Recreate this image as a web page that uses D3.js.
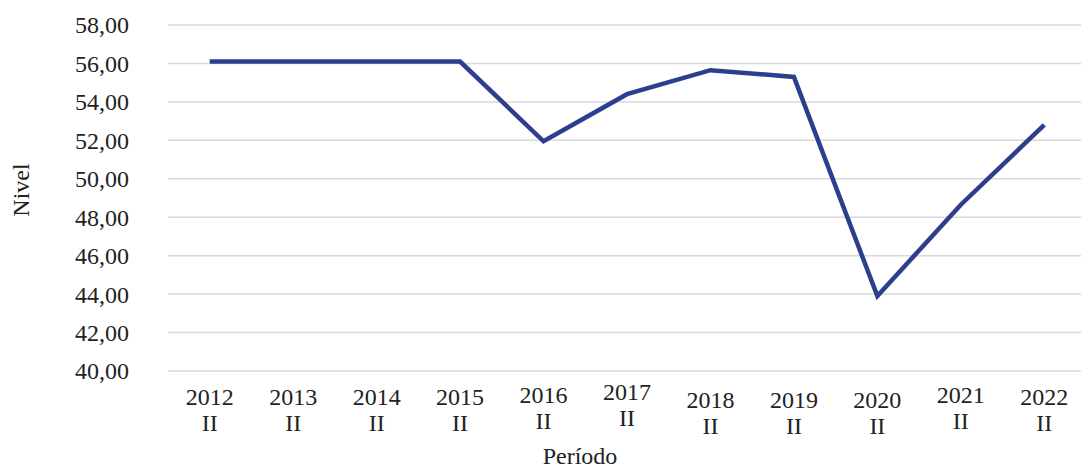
<!DOCTYPE html>
<html>
<head>
<meta charset="utf-8">
<script src="https://cdn.jsdelivr.net/npm/d3@7"></script>
<style>
  body { margin: 0; background: #fff; }
  text { font-family: "Liberation Serif", "DejaVu Serif", serif; fill: #222; }
</style>
</head>
<body>
<div id="chart"></div>
<script>
const years = ['2012', '2013', '2014', '2015', '2016', '2017', '2018', '2019', '2020', '2021', '2022'];
const semester = 'II';
const nivel = [56.1, 56.1, 56.1, 56.1, 51.95, 54.4, 55.65, 55.3, 43.9, 48.65, 52.8];
const yTicks = [40, 42, 44, 46, 48, 50, 52, 54, 56, 58];

// excel staggers the wrapped labels a bit
const tickNudge = [0, 0, 0, 0, -2, -5, 3, 3, 3, -2, 0];

const W = 1081, H = 470;
const margin = { top: 25, right: -5, bottom: 99, left: 168 };

const svg = d3.select('#chart').append('svg')
  .attr('width', W)
  .attr('height', H);

const x = d3.scaleBand()
  .domain(years)
  .range([margin.left, W - margin.right]);

const y = d3.scaleLinear()
  .domain([40, 58])
  .range([H - margin.bottom, margin.top]);

// gridlines
svg.append('g')
  .selectAll('line')
  .data(yTicks)
  .join('line')
  .attr('x1', margin.left)
  .attr('x2', W)
  .attr('y1', d => y(d))
  .attr('y2', d => y(d))
  .attr('stroke', '#d9d9d9')
  .attr('stroke-width', 1.5);

// y labels
const fmt = d => d3.format('.2f')(d).replace('.', ',');
svg.append('g')
  .selectAll('text')
  .data(yTicks)
  .join('text')
  .attr('x', 129)
  .attr('y', d => y(d))
  .attr('dy', '0.35em')
  .attr('text-anchor', 'end')
  .attr('font-size', 24)
  .text(fmt);

// x labels
const xl = svg.append('g')
  .selectAll('text')
  .data(years)
  .join('text')
  .attr('text-anchor', 'middle')
  .attr('font-size', 24)
  .attr('transform', (d, i) => `translate(${x(d) + x.bandwidth() / 2},${405 + tickNudge[i]})`);
xl.append('tspan').attr('x', 0).attr('y', 0).text(d => d);
xl.append('tspan').attr('x', 0).attr('y', 26).text(semester);

// axis titles
svg.append('text')
  .attr('x', 580)
  .attr('y', 464)
  .attr('text-anchor', 'middle')
  .attr('font-size', 24)
  .text('Período');

svg.append('text')
  .attr('transform', 'translate(29,190) rotate(-90)')
  .attr('text-anchor', 'middle')
  .attr('font-size', 24)
  .text('Nivel');

// the line
const line = d3.line()
  .x((d, i) => x(years[i]) + x.bandwidth() / 2)
  .y(d => y(d));

svg.append('path')
  .datum(nivel)
  .attr('fill', 'none')
  .attr('stroke', '#2b3f8e')
  .attr('stroke-width', 4.5)
  .attr('stroke-linejoin', 'miter')
  .attr('d', line);
</script>
</body>
</html>
